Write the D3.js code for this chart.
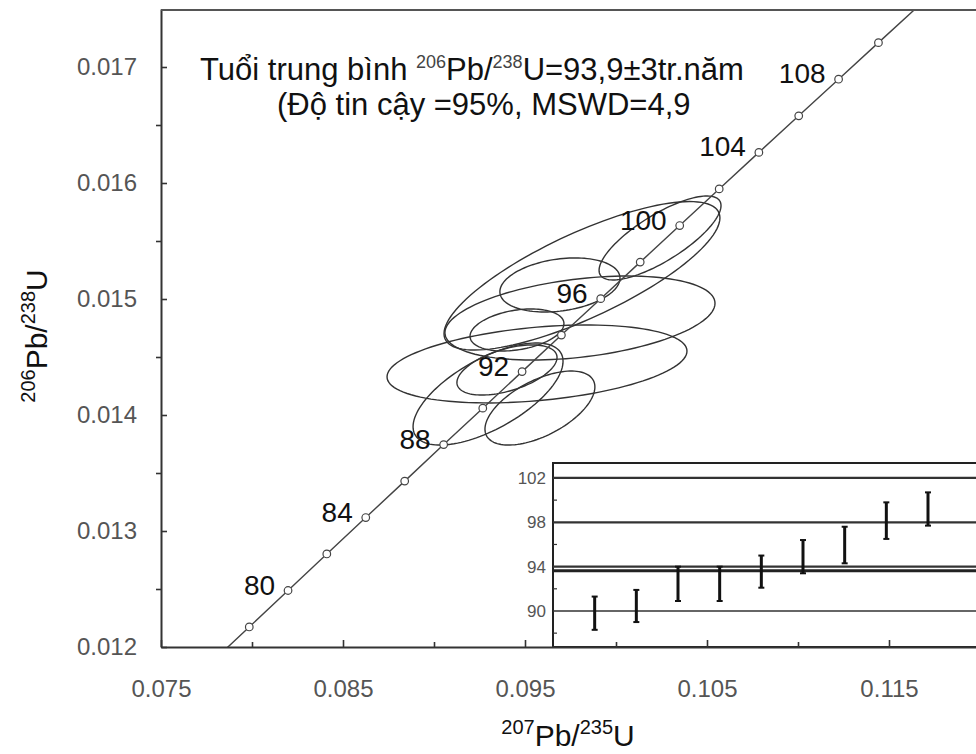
<!DOCTYPE html>
<html>
<head>
<meta charset="utf-8">
<script src="https://cdn.jsdelivr.net/npm/d3@7"></script>
<style>
  body { margin: 0; background: #fff; }
  svg { display: block; font-family: "Liberation Sans", Arial, sans-serif; }
</style>
</head>
<body>
<svg width="976" height="754"></svg>
<script>
// concordia points, every 2 Ma (age, 207Pb/235U, 206Pb/238U)
const concAges = [76, 78, 80, 82, 84, 86, 88, 90, 92, 94, 96, 98, 100, 102, 104, 106, 108, 110, 112];
const concX = [0.07772, 0.07985, 0.08198, 0.08411, 0.08625, 0.08839, 0.09053, 0.09268, 0.09484, 0.09700,
               0.09916, 0.10133, 0.10350, 0.10567, 0.10785, 0.11004, 0.11223, 0.11442, 0.11662];
const concY = [0.011859, 0.012173, 0.012487, 0.012802, 0.013116, 0.013430, 0.013745, 0.014059, 0.014374, 0.014689,
               0.015003, 0.015318, 0.015633, 0.015949, 0.016264, 0.016579, 0.016895, 0.017210, 0.017526];
const labelAges = [80, 84, 88, 92, 96, 100, 104, 108];

// analyses: 207Pb/235U, error, 206Pb/238U, error, rho
const ratio207 = [0.10242, 0.09813, 0.09802, 0.09692, 0.09566, 0.09401, 0.09297, 0.09582, 0.09456];
const err207   = [0.00335, 0.00758, 0.00742, 0.00330, 0.00824, 0.00275, 0.00412, 0.00302, 0.00258];
const ratio206 = [0.015526, 0.015200, 0.014836, 0.015121, 0.014440, 0.014388, 0.014181, 0.014060, 0.014733];
const err206   = [0.000362, 0.000640, 0.000362, 0.000233, 0.000336, 0.000216, 0.000440, 0.000319, 0.000181];
const rho      = [0.77, 0.78, 0.35, 0.25, 0.33, 0.5, 0.64, 0.57, 0.3];

// inset: 206Pb/238U ages with error bars (Ma)
const barIndex = [1, 2, 3, 4, 5, 6, 7, 8, 9];
const ageLow  = [88.3, 89.0, 90.9, 90.9, 92.1, 93.4, 94.3, 96.5, 97.7];
const ageHigh = [91.3, 91.9, 94.0, 94.0, 95.0, 96.4, 97.6, 99.8, 100.7];
const meanAge = 93.9;
const insetTicks = [90, 94, 98, 102];
const insetMinor = [88, 92, 96, 100];

const xTicks = [0.075, 0.085, 0.095, 0.105, 0.115];
const xMinor = [0.08, 0.09, 0.10, 0.11];
const yTicks = [0.012, 0.013, 0.014, 0.015, 0.016, 0.017];
const yMinor = [0.0125, 0.0135, 0.0145, 0.0155, 0.0165];

const svg = d3.select('svg');
const pLeft = 161, pRight = 980, pTop = 9, pBottom = 647;

const x = d3.scaleLinear().domain([0.075, 0.12]).range([pLeft, pRight]);
const y = d3.scaleLinear().domain([0.012, 0.0175]).range([pBottom, pTop]);

svg.append('clipPath').attr('id', 'plot')
    .append('rect')
    .attr('x', pLeft).attr('y', pTop)
    .attr('width', pRight - pLeft).attr('height', pBottom - pTop);

const plot = svg.append('g').attr('clip-path', 'url(#plot)');

// error ellipses
const ellipseLine = d3.line().curve(d3.curveLinearClosed);
ratio207.forEach((cx, i) => {
    const pts = d3.range(0, 2 * Math.PI, Math.PI / 60).map(t => {
        const ex = cx + err207[i] * Math.cos(t);
        const ey = ratio206[i] + err206[i] * (rho[i] * Math.cos(t) + Math.sqrt(1 - rho[i] * rho[i]) * Math.sin(t));
        return [x(ex), y(ey)];
    });
    plot.append('path')
        .attr('d', ellipseLine(pts))
        .attr('fill', 'none')
        .attr('stroke', '#333')
        .attr('stroke-width', 1.4);
});

// concordia
plot.append('path')
    .attr('d', d3.line()(concX.map((v, i) => [x(v), y(concY[i])])))
    .attr('fill', 'none')
    .attr('stroke', '#444')
    .attr('stroke-width', 1.4);

plot.selectAll('circle.conc')
    .data(concAges)
    .join('circle')
    .attr('class', 'conc')
    .attr('cx', (d, i) => x(concX[i]))
    .attr('cy', (d, i) => y(concY[i]))
    .attr('r', 3.8)
    .attr('fill', '#fff')
    .attr('stroke', '#444')
    .attr('stroke-width', 1.2);

plot.selectAll('text.age')
    .data(labelAges)
    .join('text')
    .attr('class', 'age')
    .attr('x', d => x(concX[concAges.indexOf(d)]) - 13)
    .attr('y', d => y(concY[concAges.indexOf(d)]) + 4)
    .attr('text-anchor', 'end')
    .attr('font-size', 28)
    .attr('fill', '#111')
    .text(d => d);

// title
const title = svg.append('text')
    .attr('x', 200).attr('y', 80)
    .attr('font-size', 31)
    .attr('fill', '#111');
title.append('tspan').text('Tuổi trung bình ');
title.append('tspan').attr('font-size', 18).attr('dy', -12).attr('fill', '#444').text('206');
title.append('tspan').attr('dy', 12).text('Pb/');
title.append('tspan').attr('font-size', 18).attr('dy', -12).attr('fill', '#444').text('238');
title.append('tspan').attr('dy', 12).text('U=93,9±3tr.năm');

svg.append('text')
    .attr('x', 277).attr('y', 115)
    .attr('font-size', 31)
    .attr('fill', '#111')
    .text('(Độ tin cậy =95%, MSWD=4,9');

// inset
const ix = d3.scaleLinear().domain([0, 10.2]).range([553, 978]);
const iy = d3.scaleLinear().domain([86.75, 103.35]).range([pBottom, 463]);

const inset = svg.append('g');
inset.append('rect')
    .attr('x', 553).attr('y', 463)
    .attr('width', 430).attr('height', pBottom - 463)
    .attr('fill', '#fff')
    .attr('stroke', '#222')
    .attr('stroke-width', 2);

inset.selectAll('line.grid')
    .data(insetTicks)
    .join('line')
    .attr('class', 'grid')
    .attr('x1', 553).attr('x2', 978)
    .attr('y1', d => iy(d)).attr('y2', d => iy(d))
    .attr('stroke', '#333')
    .attr('stroke-width', d => d === 90 ? 1.4 : 2.2);

inset.append('line')
    .attr('x1', 553).attr('x2', 978)
    .attr('y1', iy(meanAge) + 3).attr('y2', iy(meanAge) + 3)
    .attr('stroke', '#222')
    .attr('stroke-width', 3);

inset.selectAll('line.minor')
    .data(insetMinor)
    .join('line')
    .attr('class', 'minor')
    .attr('x1', 553).attr('x2', 557)
    .attr('y1', d => iy(d)).attr('y2', d => iy(d))
    .attr('stroke', '#333')
    .attr('stroke-width', 1.2);

inset.selectAll('text.itick')
    .data(insetTicks)
    .join('text')
    .attr('class', 'itick')
    .attr('x', 546)
    .attr('y', d => iy(d) + 6)
    .attr('text-anchor', 'end')
    .attr('font-size', 17)
    .attr('fill', '#555')
    .text(d => d);

const bars = inset.selectAll('g.bar')
    .data(barIndex)
    .join('g')
    .attr('class', 'bar');
bars.append('line')
    .attr('x1', d => ix(d)).attr('x2', d => ix(d))
    .attr('y1', (d, i) => iy(ageLow[i])).attr('y2', (d, i) => iy(ageHigh[i]))
    .attr('stroke', '#111').attr('stroke-width', 3);
bars.append('line')
    .attr('x1', d => ix(d) - 3).attr('x2', d => ix(d) + 3)
    .attr('y1', (d, i) => iy(ageLow[i])).attr('y2', (d, i) => iy(ageLow[i]))
    .attr('stroke', '#111').attr('stroke-width', 2);
bars.append('line')
    .attr('x1', d => ix(d) - 3).attr('x2', d => ix(d) + 3)
    .attr('y1', (d, i) => iy(ageHigh[i])).attr('y2', (d, i) => iy(ageHigh[i]))
    .attr('stroke', '#111').attr('stroke-width', 2);

// axes
const fmt = d3.format('.3f');
svg.append('g')
    .attr('transform', `translate(${pLeft},0)`)
    .call(d3.axisLeft(y).tickValues(yTicks).tickFormat(fmt).tickSizeInner(-6).tickSizeOuter(0).tickPadding(24));
svg.append('g')
    .attr('transform', `translate(${pLeft},0)`)
    .call(d3.axisLeft(y).tickValues(yMinor).tickFormat('').tickSizeInner(5).tickSizeOuter(0))
    .select('.domain').remove();

svg.append('g')
    .attr('transform', `translate(0,${pBottom})`)
    .call(d3.axisBottom(x).tickValues(xTicks).tickFormat(fmt).tickSizeInner(-7).tickSizeOuter(0).tickPadding(33));
svg.append('g')
    .attr('transform', `translate(0,${pBottom})`)
    .call(d3.axisBottom(x).tickValues(xMinor).tickFormat('').tickSizeInner(-5).tickSizeOuter(0))
    .select('.domain').remove();

svg.selectAll('.tick text')
    .attr('font-size', 24)
    .attr('font-family', '"Liberation Sans", Arial, sans-serif')
    .attr('fill', '#555');
svg.selectAll('.domain').attr('stroke', '#333').attr('stroke-width', 2);
svg.selectAll('.tick line').attr('stroke', '#333').attr('stroke-width', 1.6);

svg.append('line')
    .attr('x1', pLeft).attr('x2', 976)
    .attr('y1', pTop + 1).attr('y2', pTop + 1)
    .attr('stroke', '#555').attr('stroke-width', 2);

// axis titles
const xTitle = svg.append('text')
    .attr('x', 568).attr('y', 746)
    .attr('text-anchor', 'middle')
    .attr('font-size', 30)
    .attr('fill', '#111');
xTitle.append('tspan').attr('font-size', 20).attr('dy', -12).text('207');
xTitle.append('tspan').attr('dy', 12).text('Pb/');
xTitle.append('tspan').attr('font-size', 20).attr('dy', -12).text('235');
xTitle.append('tspan').attr('dy', 12).text('U');

const yTitle = svg.append('text')
    .attr('transform', 'translate(47,336) rotate(-90)')
    .attr('text-anchor', 'middle')
    .attr('font-size', 30)
    .attr('fill', '#111');
yTitle.append('tspan').attr('font-size', 20).attr('dy', -12).text('206');
yTitle.append('tspan').attr('dy', 12).text('Pb/');
yTitle.append('tspan').attr('font-size', 20).attr('dy', -12).text('238');
yTitle.append('tspan').attr('dy', 12).text('U');
</script>
</body>
</html>
